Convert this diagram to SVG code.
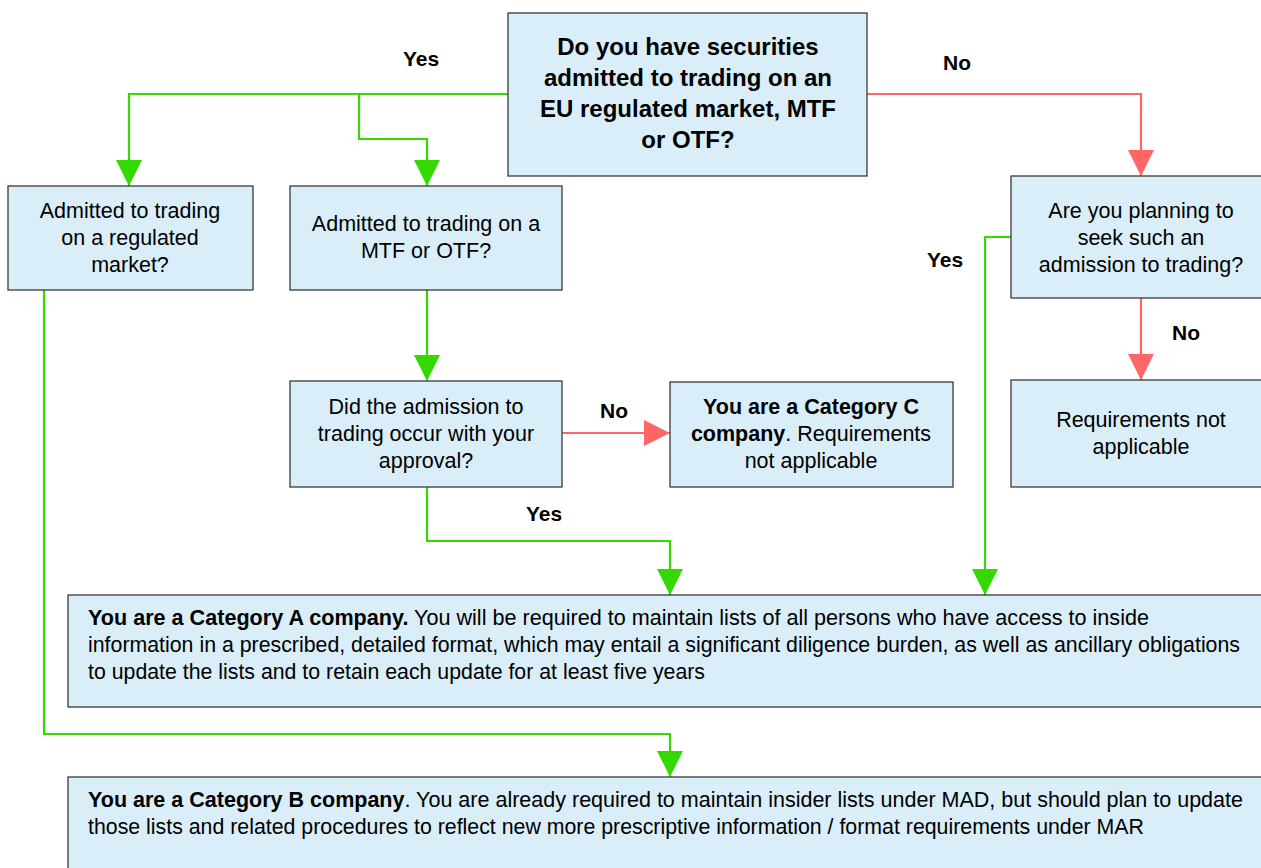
<svg xmlns="http://www.w3.org/2000/svg" width="1261" height="868" viewBox="0 0 1261 868">
<style>
.box{fill:#D9EEF8;stroke:#3a3a3a;stroke-width:1.3}
.t{font-family:"Liberation Sans",Arial,sans-serif;font-size:21.5px;fill:#000;text-anchor:middle}
.tl{font-family:"Liberation Sans",Arial,sans-serif;font-size:21.3px;fill:#000}
.b{font-weight:bold}
.h{font-family:"Liberation Sans",Arial,sans-serif;font-size:24px;font-weight:bold;fill:#000;text-anchor:middle}
.lbl{font-family:"Liberation Sans",Arial,sans-serif;font-size:21px;font-weight:bold;fill:#000;text-anchor:middle}
.g{fill:none;stroke:#33D900;stroke-width:2.2}
.r{fill:none;stroke:#FF6666;stroke-width:2.2}
</style>
<defs>
<marker id="ag" markerUnits="userSpaceOnUse" markerWidth="26" markerHeight="26" viewBox="0 0 26 26" refX="26" refY="13" orient="auto"><path d="M0,0 L26,13 L0,26 Z" fill="#33D900"/></marker>
<marker id="ar" markerUnits="userSpaceOnUse" markerWidth="26" markerHeight="26" viewBox="0 0 26 26" refX="26" refY="13" orient="auto"><path d="M0,0 L26,13 L0,26 Z" fill="#FF6666"/></marker>
</defs>
<rect width="1261" height="868" fill="#fff"/>
<g id="connectors">
<path class="g" d="M508,94 H129 V186" marker-end="url(#ag)"/>
<path class="g" d="M359,94 V139 H427 V186" marker-end="url(#ag)"/>
<path class="r" d="M867,94 H1141 V176" marker-end="url(#ar)"/>
<path class="g" d="M427,290 V381" marker-end="url(#ag)"/>
<path class="r" d="M562,433 H670" marker-end="url(#ar)"/>
<path class="g" d="M427,487 V541 H670 V595" marker-end="url(#ag)"/>
<path class="g" d="M1011,237 H985 V595" marker-end="url(#ag)"/>
<path class="r" d="M1141,298 V380" marker-end="url(#ar)"/>
<path class="g" d="M44,290 V734 H670 V777" marker-end="url(#ag)"/>
<text class="lbl" x="421" y="66">Yes</text>
<text class="lbl" x="957" y="70">No</text>
<text class="lbl" x="945" y="267">Yes</text>
<text class="lbl" x="1186" y="340">No</text>
<text class="lbl" x="614" y="418">No</text>
<text class="lbl" x="544" y="521">Yes</text>
</g>
<g id="n-start">
<rect class="box" x="508" y="13" width="359" height="163"/>
<text class="h" x="688" y="55">Do you have securities</text>
<text class="h" x="688" y="86">admitted to trading on an</text>
<text class="h" x="688" y="117">EU regulated market, MTF</text>
<text class="h" x="688" y="148">or OTF?</text>
</g>
<g id="n-regulated">
<rect class="box" x="8" y="186" width="245" height="104"/>
<text class="t" x="130" y="218">Admitted to trading</text>
<text class="t" x="130" y="245">on a regulated</text>
<text class="t" x="130" y="272">market?</text>
</g>
<g id="n-mtf">
<rect class="box" x="290" y="186" width="272" height="104"/>
<text class="t" x="426" y="231">Admitted to trading on a</text>
<text class="t" x="426" y="258">MTF or OTF?</text>
</g>
<g id="n-planning">
<rect class="box" x="1011" y="176" width="260" height="122"/>
<text class="t" x="1141" y="218">Are you planning to</text>
<text class="t" x="1141" y="245">seek such an</text>
<text class="t" x="1141" y="272">admission to trading?</text>
</g>
<g id="n-approval">
<rect class="box" x="290" y="381" width="272" height="106"/>
<text class="t" x="426" y="414">Did the admission to</text>
<text class="t" x="426" y="441">trading occur with your</text>
<text class="t" x="426" y="468">approval?</text>
</g>
<g id="n-catc">
<rect class="box" x="670" y="382" width="283" height="105"/>
<text class="t b" x="811" y="414">You are a Category C</text>
<text class="t" x="811" y="441"><tspan class="b">company</tspan>. Requirements</text>
<text class="t" x="811" y="468">not applicable</text>
</g>
<g id="n-notapplicable">
<rect class="box" x="1011" y="380" width="260" height="107"/>
<text class="t" x="1141" y="427">Requirements not</text>
<text class="t" x="1141" y="454">applicable</text>
</g>
<g id="n-cata">
<rect class="box" x="68" y="595" width="1203" height="112"/>
<text class="tl" x="88" y="625" textLength="1061" lengthAdjust="spacingAndGlyphs"><tspan class="b">You are a Category A company.</tspan>  You will be required to maintain lists of all persons who have access to inside</text>
<text class="tl" x="88" y="652" textLength="1152" lengthAdjust="spacingAndGlyphs">information in a prescribed, detailed format, which may entail a significant diligence burden, as well as ancillary obligations</text>
<text class="tl" x="88" y="679" textLength="617" lengthAdjust="spacingAndGlyphs">to update the lists and to retain each update for at least five years</text>
</g>
<g id="n-catb">
<rect class="box" x="68" y="777" width="1203" height="100"/>
<text class="tl" x="88" y="807" textLength="1155" lengthAdjust="spacingAndGlyphs"><tspan class="b">You are a Category B company</tspan>.  You are already required to maintain insider lists under MAD, but should plan to update</text>
<text class="tl" x="88" y="834" textLength="1056" lengthAdjust="spacingAndGlyphs">those lists and related procedures to reflect new more prescriptive information / format requirements under MAR</text>
</g>
</svg>
